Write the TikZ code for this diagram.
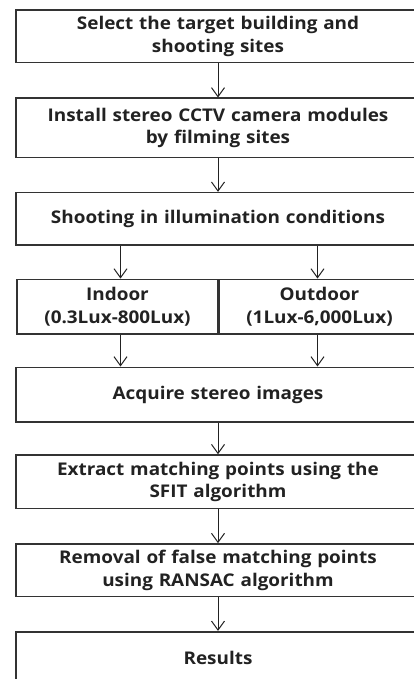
\documentclass[tikz,border=0pt]{standalone}
\usepackage{fontspec}
\setmainfont{Open Sans}[FakeStretch=1.08]
\usetikzlibrary{arrows.meta,calc}
\definecolor{ink}{HTML}{222222}
\definecolor{edge}{HTML}{333333}
\newcommand{\boxfont}{\fontsize{17.5}{22.5}\selectfont\bfseries\spaceskip=10pt plus 1pt minus 1pt}
\tikzset{
  box/.style={draw=edge, line width=1.6pt, minimum width=404pt, text width=400pt,
    align=center, inner sep=0pt, text=ink, font=\boxfont},
  half/.style={box, minimum width=201.5pt, text width=200pt},
  flow/.style={draw=ink, line width=1pt, -{Straight Barb[length=9pt,width=13pt,line width=1pt]}}
}
\begin{document}
\begin{tikzpicture}[x=1pt,y=-1pt]
\useasboundingbox (0,0) rectangle (414,679);
\fill[white] (0,0) rectangle (414,679);
\node[box, minimum height=52.7pt] (b1) at (218,36.3) {Select the target building and\\shooting sites};
\node[box, minimum height=59.4pt] (b2) at (218,128) {Install stereo CCTV camera modules\\by filming sites};
\node[box, minimum height=52.3pt] (b3) at (218,218.8) {Shooting in illumination conditions};
\node[half, minimum height=54.7pt] (inL) at (117.5,306.7) {Indoor\\(0.3Lux-800Lux)};
\node[half, minimum height=54.7pt] (inR) at (319.5,306.7) {Outdoor\\(1Lux-6,000Lux)};
\node[box, minimum height=54.4pt] (b4) at (218,394.5) {Acquire stereo images};
\node[box, minimum height=53.3pt] (b5) at (218,481.7) {Extract matching points using the\\SFIT algorithm};
\node[box, minimum height=52.7pt] (b6) at (218,570.3) {Removal of false matching points\\using RANSAC algorithm};
\node[box, minimum height=52.6pt] (b7) at (218,658) {Results};
\draw[flow] (b1) -- (b2);
\draw[flow] (b2) -- (b3);
\draw[flow] ([xshift=3pt]inL.north |- b3.south) -- ([xshift=3pt]inL.north);
\draw[flow] ([xshift=-2pt]inR.north |- b3.south) -- ([xshift=-2pt]inR.north);
\draw[flow] ([xshift=3pt]inL.south) -- ([xshift=3pt]inL.south |- b4.north);
\draw[flow] ([xshift=-2pt]inR.south) -- ([xshift=-2pt]inR.south |- b4.north);
\draw[flow] (b4) -- (b5);
\draw[flow] (b5) -- (b6);
\draw[flow] (b6) -- (b7);
\end{tikzpicture}
\end{document}
